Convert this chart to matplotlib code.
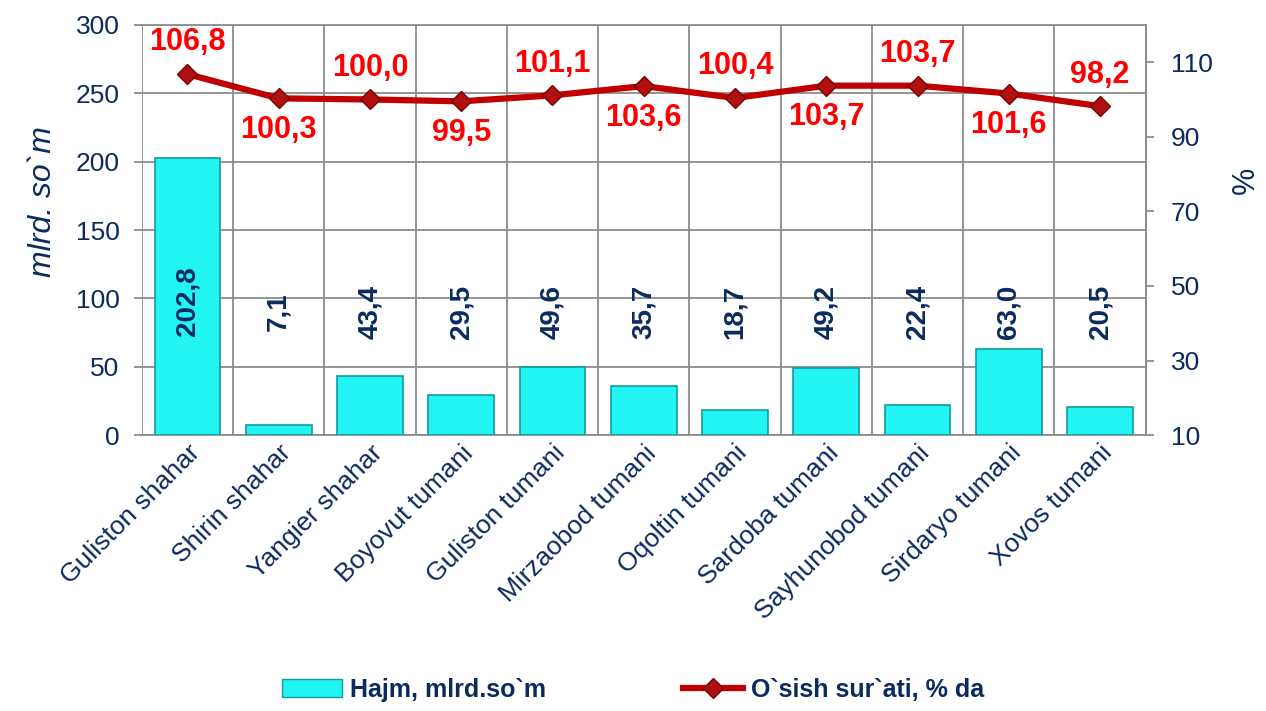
import numpy as np
import matplotlib.pyplot as plt
from matplotlib.lines import Line2D
from matplotlib.patches import Patch

plt.rcParams['font.family'] = ['Liberation Sans', 'DejaVu Sans']

districts = ["Guliston shahar", "Shirin shahar", "Yangier shahar", "Boyovut tumani",
             "Guliston tumani", "Mirzaobod tumani", "Oqoltin tumani", "Sardoba tumani",
             "Sayhunobod tumani", "Sirdaryo tumani", "Xovos tumani"]
hajm = [202.8, 7.1, 43.4, 29.5, 49.6, 35.7, 18.7, 49.2, 22.4, 63.0, 20.5]
osish = [106.8, 100.3, 100.0, 99.5, 101.1, 103.6, 100.4, 103.7, 103.7, 101.6, 98.2]

navy = '#0B2A5E'
red = '#C00000'
grid = '#8C8C8C'
cyan = '#22F4F4'
cyan_edge = '#139C9C'

def fmt(v):
    return f"{v:.1f}".replace('.', ',')

fig = plt.figure(figsize=(12.66, 7.11), dpi=100)
ax = fig.add_axes([0.112, 0.388, 0.793, 0.577])
x = np.arange(len(districts))

ax.bar(x, hajm, width=0.72, color=cyan, edgecolor=cyan_edge, linewidth=1.2, zorder=3)
ax.set_xlim(-0.5, len(districts) - 0.5)
ax.set_ylim(0, 300)
ax.set_yticks(range(0, 301, 50))
ax.yaxis.grid(True, color=grid, linewidth=1.3, zorder=0)
for xv in np.arange(-0.5, len(districts), 1.0):
    ax.axvline(xv, color=grid, linewidth=1.3, zorder=0)
for s in ax.spines.values():
    s.set_color(grid)
    s.set_linewidth(1.3)
ax.spines['left'].set_visible(False)
ax.tick_params(axis='y', colors=grid, labelcolor=navy, labelsize=19, length=6, width=1.3, pad=10)
ax.tick_params(axis='x', length=0, labelcolor=navy, labelsize=19, pad=4)
ax.set_xticks(x)
ax.set_xticklabels(districts, rotation=45, ha='right', rotation_mode='anchor')
ax.set_ylabel("mlrd. so`m", fontsize=23, style='italic', color=navy)
ax.yaxis.set_label_coords(-0.083, 0.57)

for i, v in enumerate(hajm):
    yv = 98 if i == 0 else 90
    ax.text(i, yv, fmt(v), rotation=90, ha='center', va='center', fontsize=20,
            fontweight='bold', color=navy, zorder=5)

ax2 = ax.twinx()
ax2.set_ylim(10, 120)
ax2.set_yticks(range(10, 111, 20))
ax2.plot(x, osish, color=red, linewidth=4.5, marker='D', markersize=10,
         markerfacecolor='#B01010', markeredgecolor='#7A0000', zorder=4)
for s in ax2.spines.values():
    s.set_visible(False)
ax2.spines['right'].set_visible(True)
ax2.spines['right'].set_color(grid)
ax2.spines['right'].set_linewidth(1.3)
ax2.tick_params(axis='y', colors=grid, labelcolor=navy, labelsize=19, length=6, width=1.3, pad=12)
ax2.set_ylabel("%", fontsize=22, color=navy)
ax2.yaxis.set_label_coords(1.085, 0.62)

for i, v in enumerate(osish):
    above = i % 2 == 0
    ax2.annotate(fmt(v), (i, v), xytext=(0, 12 if above else -12),
                 textcoords='offset points', ha='center',
                 va='bottom' if above else 'top', fontsize=22,
                 fontweight='bold', color='#FF0000', zorder=6)

handles = [Patch(facecolor=cyan, edgecolor=cyan_edge),
           Line2D([0], [0], color=red, linewidth=4.5, marker='D', markersize=10,
                  markerfacecolor='#B01010', markeredgecolor='#7A0000')]
leg = fig.legend(handles, ["Hajm, mlrd.so`m", "O`sish sur`ati, % da"], loc='center',
                 bbox_to_anchor=(0.5, 0.03), ncol=2, frameon=False, columnspacing=5.5,
                 handlelength=2.4, handletextpad=0.3,
                 prop={'size': 18, 'weight': 'bold'})
for t in leg.get_texts():
    t.set_color(navy)

plt.savefig("out.png", dpi=100)
